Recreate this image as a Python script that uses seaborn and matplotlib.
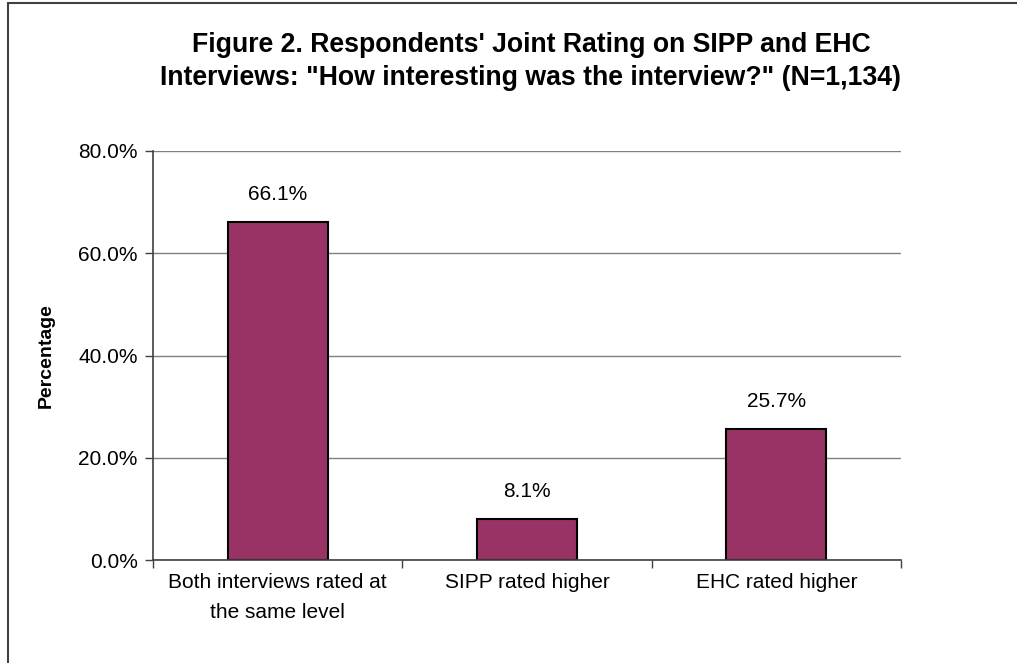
import pandas as pd
import matplotlib
matplotlib.use('Agg')
from matplotlib import pyplot as plt
from matplotlib.lines import Line2D
from matplotlib.ticker import FuncFormatter, FixedLocator
import seaborn as sns

sns.set_theme(style='white')
plt.rcParams['font.family'] = ['Liberation Sans', 'DejaVu Sans']
plt.rcParams['text.color'] = 'black'
plt.rcParams['xtick.color'] = 'black'
plt.rcParams['ytick.color'] = 'black'
plt.rcParams['axes.labelcolor'] = 'black'

# data
categories = ['Both interviews rated at\nthe same level', 'SIPP rated higher', 'EHC rated higher']
values = [66.1, 8.1, 25.7]
y_ticks = [0, 20, 40, 60, 80]

df = pd.DataFrame({'Rating': categories, 'Percentage': values})

W, H = 1017, 663
fig = plt.figure(figsize=(W / 100, H / 100), dpi=100)
fig.patch.set_facecolor('white')

# plot area in pixels: x 153..901, y 151..560
ax = fig.add_axes([153 / W, (H - 560) / H, 748 / W, 409 / H])
sns.barplot(ax=ax, data=df, x='Rating', y='Percentage', color='#993366',
            edgecolor='black', linewidth=1.5, width=0.4, saturation=1)

ax.set_xlim(-0.5, 2.5)
ax.set_ylim(0, 80)
ax.set_yticks(y_ticks)
ax.yaxis.set_major_formatter(FuncFormatter(lambda v, p: f'{v:.1f}%'))
ax.yaxis.grid(True, color='#808080', linewidth=1)
ax.set_axisbelow(True)

for side in ['top', 'right']:
    ax.spines[side].set_visible(False)
for side in ['left', 'bottom']:
    ax.spines[side].set_color('#404040')
    ax.spines[side].set_linewidth(1.2)

ax.tick_params(axis='y', which='major', direction='out', length=6, width=1,
               color='#404040', labelsize=15, pad=5, left=True)
ax.tick_params(axis='x', which='major', length=0, labelsize=15, pad=9)
for lbl in ax.get_xticklabels():
    lbl.set_linespacing(1.8)
ax.xaxis.set_minor_locator(FixedLocator([-0.5, 0.5, 1.5, 2.5]))
ax.tick_params(axis='x', which='minor', direction='out', length=6, width=1,
               color='#404040', bottom=True)

ax.set_xlabel('')
ax.set_ylabel('Percentage', fontsize=14, fontweight='bold', labelpad=17)

for i, v in enumerate(values):
    ax.annotate(f'{v:.1f}%', (i, v), xytext=(0, 13), textcoords='offset points',
                ha='center', va='bottom', fontsize=15)

fig.text(531 / W, 1 - 45 / H, "Figure 2. Respondents' Joint Rating on SIPP and EHC",
         ha='center', va='center', fontsize=19.2, fontweight='bold')
fig.text(531 / W, 1 - 78 / H, 'Interviews: "How interesting was the interview?" (N=1,134)',
         ha='center', va='center', fontsize=19.2, fontweight='bold')

# outer chart border (only top and left visible in the reference)
fig.add_artist(Line2D([8 / W, 8 / W], [0, 1 - 3 / H], transform=fig.transFigure,
                      color='#404040', linewidth=1.5))
fig.add_artist(Line2D([8 / W, 1], [1 - 3 / H, 1 - 3 / H], transform=fig.transFigure,
                      color='#404040', linewidth=1.5))

plt.savefig('out.png', dpi=100)
